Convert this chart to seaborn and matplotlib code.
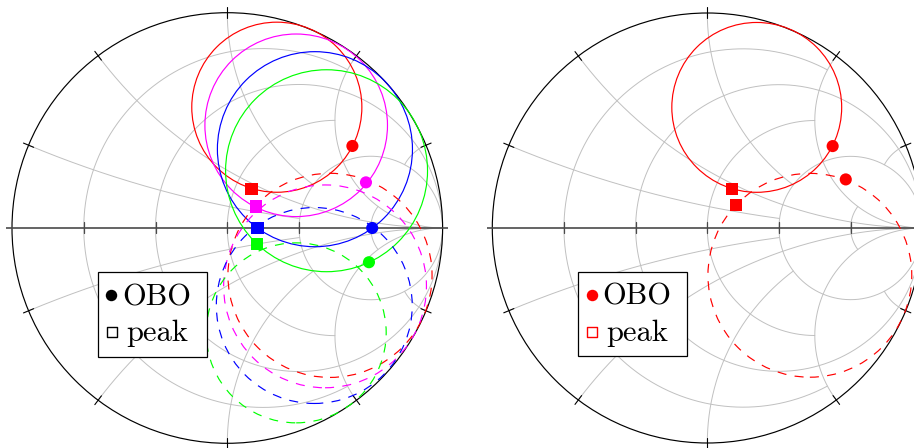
import numpy as np
import pandas as pd
import matplotlib
matplotlib.use("Agg")
import matplotlib.pyplot as plt
from matplotlib.patches import Circle, Rectangle
import seaborn as sns

# Smith chart ticks (normalised resistance / reactance)
resistance_ticks = [0.2, 0.5, 1, 2, 5]
reactance_ticks = [0.2, 0.5, 1, 2, 5]

# Design loci in the reflection-coefficient plane
designs = ["d1", "d2", "d3", "d4"]
design_colors = ["#ff0000", "#ff00ff", "#0000ff", "#00ff00"]

# OBO loci (solid circles): centre and radius
obo_center_re = [0.230, 0.320, 0.407, 0.461]
obo_center_im = [0.561, 0.477, 0.366, 0.266]
obo_radius = [0.395, 0.424, 0.453, 0.469]

# peak loci (dashed circles): centre and radius
peak_center_re = [0.477, 0.454, 0.404, 0.320]
peak_center_im = [-0.220, -0.271, -0.360, -0.487]
peak_radius = [0.474, 0.471, 0.455, 0.418]

# operating points marked on the OBO loci
obo_point_re = [0.581, 0.644, 0.673, 0.658]
obo_point_im = [0.381, 0.212, 0.000, -0.159]
peak_point_re = [0.113, 0.133, 0.141, 0.138]
peak_point_im = [0.182, 0.099, -0.001, -0.073]

# right chart: first design, points on both loci
right_obo_re = [0.583, 0.644]
right_obo_im = [0.381, 0.226]
right_peak_re = [0.115, 0.134]
right_peak_im = [0.181, 0.107]

legend_labels = ["OBO", "peak"]

sns.set_theme(style="white")
plt.rcParams["lines.scale_dashes"] = False

W, H = 914, 448
fig = plt.figure(figsize=(W / 100, H / 100), dpi=100)


def gamma(z):
    return (z - 1) / (z + 1)


def make_axes(left_px, width_px, cx, cy, scale):
    ax = fig.add_axes([left_px / W, 0, width_px / W, 1])
    ax.set_xlim((left_px - cx) / scale, (left_px + width_px - cx) / scale)
    ax.set_ylim((cy - H) / scale, cy / scale)
    ax.set_axis_off()
    return ax


def smith_grid(ax, scale):
    grid_kw = dict(color="#c0c0c0", lw=0.7, zorder=1)
    # every second circle runs through to the open-circuit point,
    # the others stop at |x| = 2 (or r = 2)
    for i, r in enumerate(resistance_ticks):
        lim = np.pi / 2 if i % 2 == 1 else np.arctan(2)
        phi = np.linspace(-lim, lim, 1200)
        g = gamma(r + 1j * np.tan(phi))
        ax.plot(g.real, g.imag, **grid_kw)
    for i, x in enumerate(reactance_ticks):
        lim = np.pi / 2 if i % 2 == 1 else np.arctan(2)
        psi = np.linspace(0, lim, 1200)
        for s in (1, -1):
            g = gamma(np.tan(psi) + 1j * s * x)
            ax.plot(g.real, g.imag, **grid_kw)

    tick = 5.5 / scale
    ax.add_patch(Circle((0, 0), 1, fill=False, ec="black", lw=0.85, zorder=2))
    ax.plot([-1 - tick, 1 + tick], [0, 0], color="#4a4a4a", lw=1.2, zorder=2,
            solid_capstyle="butt")
    for r in resistance_ticks:
        g = gamma(r)
        ax.plot([g, g], [-tick, tick], color="#4a4a4a", lw=0.9, zorder=2)
    for x in reactance_ticks:
        for s in (1, -1):
            a = np.angle(gamma(1j * s * x))
            ax.plot([(1 - tick) * np.cos(a), (1 + tick) * np.cos(a)],
                    [(1 - tick) * np.sin(a), (1 + tick) * np.sin(a)],
                    color="black", lw=0.8, zorder=2)


def draw_locus(ax, cre, cim, rad, color, dashed):
    ls = (0, (6.5, 6.0)) if dashed else "-"
    ax.add_patch(Circle((cre, cim), rad, fill=False, ec=color, lw=0.85,
                        ls=ls, zorder=3))


def draw_points(ax, re, im, names, palette, marker, size):
    df = pd.DataFrame({"re": re, "im": im, "design": names})
    sns.scatterplot(data=df, x="re", y="im", hue="design", palette=palette,
                    marker=marker, s=size, linewidth=0, legend=False,
                    zorder=5, ax=ax)
    ax.set_xlabel("")
    ax.set_ylabel("")


def draw_key(ax, scale, color):
    # boxed key in the lower-left part of the chart
    x0, x1 = -0.600, -0.096
    y0, y1 = -0.597, -0.203
    ax.add_patch(Rectangle((x0, y0), x1 - x0, y1 - y0, fc="white",
                           ec="black", lw=0.9, zorder=8))
    ax.scatter([-0.538], [-0.311], s=68, marker="o", color=color,
               linewidths=0, zorder=9)
    ax.scatter([-0.536], [-0.485], s=46, marker="s", facecolor="white",
               edgecolor=color, linewidths=1.0, zorder=9)
    ax.text(-0.487, -0.358, legend_labels[0], fontsize=22, family="cmr10",
            ha="left", va="baseline", color="black", zorder=10)
    ax.text(-0.470, -0.524, legend_labels[1], fontsize=22, family="cmr10",
            ha="left", va="baseline", color="black", zorder=10)


palette = dict(zip(designs, design_colors))

# left chart: all four designs
SL = 215.3
axL = make_axes(0, 457, 227.3, 228, SL)
smith_grid(axL, SL)
for i in range(4):
    draw_locus(axL, obo_center_re[i], obo_center_im[i], obo_radius[i],
               design_colors[i], False)
for i in range(4):
    draw_locus(axL, peak_center_re[i], peak_center_im[i], peak_radius[i],
               design_colors[i], True)
draw_points(axL, obo_point_re, obo_point_im, designs, palette, "o", 76)
draw_points(axL, peak_point_re, peak_point_im, designs, palette, "s", 80)
draw_key(axL, SL, "black")

# right chart: first design only
SR = 215.0
axR = make_axes(457, 457, 707.3, 228, SR)
smith_grid(axR, SR)
draw_locus(axR, obo_center_re[0], obo_center_im[0], obo_radius[0],
           design_colors[0], False)
draw_locus(axR, peak_center_re[0], peak_center_im[0], peak_radius[0],
           design_colors[0], True)
draw_points(axR, right_obo_re, right_obo_im, ["d1", "d1"], palette, "o", 76)
draw_points(axR, right_peak_re, right_peak_im, ["d1", "d1"], palette, "s", 80)
draw_key(axR, SR, design_colors[0])

fig.savefig("out.png", dpi=100)
